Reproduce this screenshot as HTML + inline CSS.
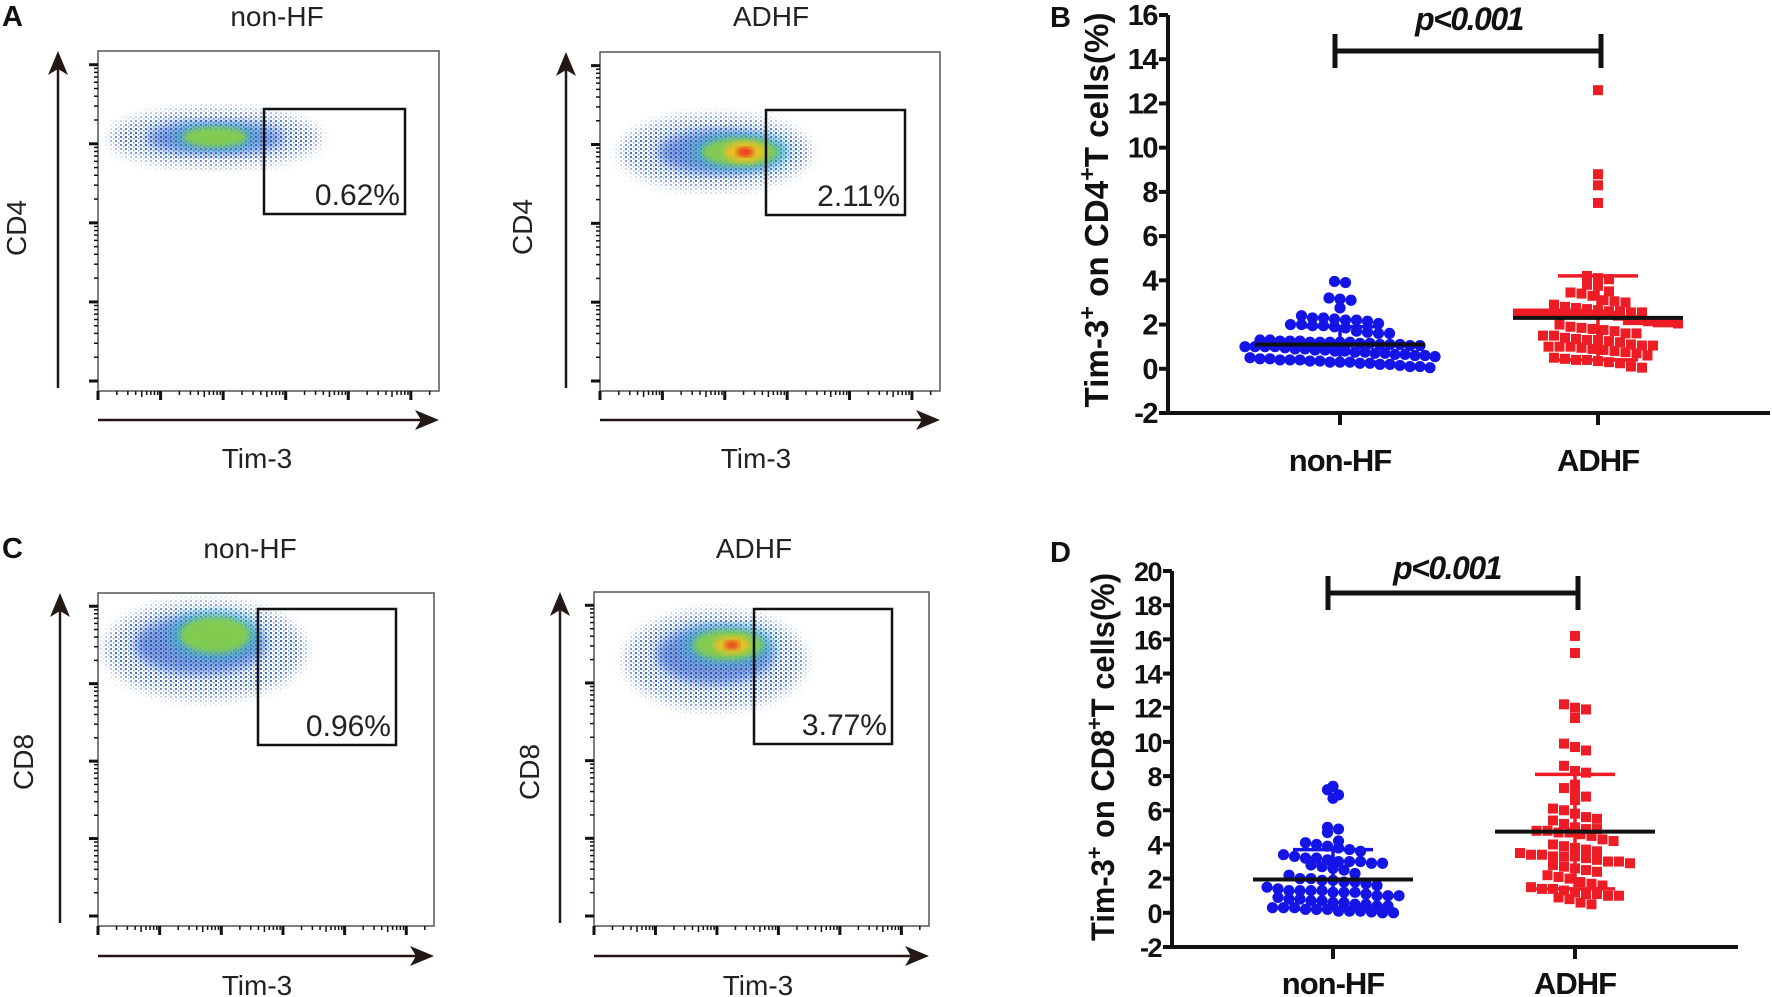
<!DOCTYPE html>
<html><head><meta charset="utf-8"><style>
html,body{margin:0;padding:0;background:#fff}
svg{display:block}
.flow{font-family:"Liberation Sans",sans-serif;fill:#222}
.bold{font-family:"Liberation Sans",sans-serif;font-weight:bold;fill:#111}
</style></head><body>
<svg id="fig" width="1772" height="997" viewBox="0 0 1772 997" xmlns="http://www.w3.org/2000/svg">
<defs>
<pattern id="speck" width="5" height="4" patternUnits="userSpaceOnUse"><rect x="0" y="0" width="2" height="2" fill="#1a3fa8"/><rect x="3" y="2" width="1.5" height="1.5" fill="#2a7fd0"/></pattern>
<filter id="blur6"><feGaussianBlur stdDeviation="6"/></filter>
<filter id="blur3"><feGaussianBlur stdDeviation="3"/></filter>
<mask id="m1" maskUnits="userSpaceOnUse"><ellipse cx="215" cy="138" rx="105" ry="28" fill="#fff" filter="url(#blur6)"/></mask>
<mask id="m2" maskUnits="userSpaceOnUse"><ellipse cx="715" cy="152" rx="95" ry="36" fill="#fff" filter="url(#blur6)"/></mask>
<mask id="m3" maskUnits="userSpaceOnUse"><ellipse cx="205" cy="650" rx="100" ry="48" fill="#fff" filter="url(#blur6)"/></mask>
<mask id="m4" maskUnits="userSpaceOnUse"><ellipse cx="715" cy="660" rx="90" ry="48" fill="#fff" filter="url(#blur6)"/></mask>
</defs>
<g id="flowLayer"></g>
<g id="chartB"></g>
<g id="chartD"></g>
</svg>
<script>
// ===== Chart B data =====
const catLabels = ["non-HF", "ADHF"];
const bNonHF = [3.95,3.9,3.2,3.15,3.1,2.75,2.4,2.3,2.3,2.25,2.2,2.2,2.15,2.05,2.0,2.0,1.95,1.95,1.9,1.85,1.7,1.65,1.6,1.6,1.3,1.3,1.25,1.25,1.25,1.2,1.2,1.2,1.2,1.2,1.15,1.15,1.1,1.1,1.1,1.05,1.05,1.0,1.0,1.0,1.0,0.95,0.9,0.9,0.85,0.85,0.8,0.8,0.75,0.75,0.7,0.7,0.65,0.65,0.6,0.6,0.55,0.5,0.45,0.45,0.4,0.4,0.4,0.35,0.35,0.3,0.3,0.3,0.25,0.25,0.2,0.2,0.15,0.1,0.1,0.05];
const bADHF = [12.6,8.8,8.3,7.5,4.2,4.1,4.05,3.8,3.75,3.5,3.45,3.4,3.3,3.1,3.05,3.0,2.9,2.8,2.75,2.7,2.65,2.6,2.6,2.55,2.55,2.5,2.5,2.5,2.5,2.5,2.5,2.5,2.45,2.45,2.45,2.4,2.2,2.2,2.15,2.1,2.1,2.05,2.0,1.9,1.85,1.8,1.75,1.7,1.6,1.6,1.5,1.5,1.4,1.35,1.3,1.3,1.25,1.2,1.1,1.05,1.05,1.0,1.0,1.0,0.95,0.9,0.85,0.8,0.75,0.7,0.6,0.5,0.45,0.4,0.4,0.35,0.3,0.25,0.1,0.05];
const bMeans = [1.1, 2.3];
const bSDs = [0.8, 1.9];
const bTicks = [-2,0,2,4,6,8,10,12,14,16];
// ===== Chart D data =====
const dNonHF = [7.4,7.2,6.9,6.7,5.0,4.9,4.7,4.2,4.1,4.0,3.9,3.8,3.7,3.6,3.4,3.3,3.2,3.2,3.1,3.0,3.0,3.0,2.9,2.9,2.8,2.7,2.6,2.5,2.3,2.2,2.0,2.0,1.9,1.9,1.8,1.8,1.7,1.6,1.5,1.4,1.3,1.3,1.3,1.3,1.2,1.2,1.2,1.1,1.0,1.0,1.0,0.9,0.8,0.8,0.7,0.7,0.6,0.6,0.5,0.5,0.4,0.4,0.3,0.3,0.3,0.2,0.2,0.2,0.1,0.1,0.1,0.05,0.0,0.0];
const dADHF = [16.2,15.2,12.2,12.0,11.9,11.4,9.9,9.7,9.5,8.6,8.3,8.2,7.5,7.3,7.0,6.8,6.6,6.1,6.0,5.8,5.6,5.5,5.4,5.2,5.0,4.9,4.9,4.8,4.8,4.7,4.7,4.6,4.5,4.3,4.2,4.0,3.9,3.8,3.7,3.6,3.5,3.4,3.4,3.3,3.3,3.3,3.2,3.1,3.0,3.0,2.9,2.8,2.7,2.6,2.5,2.4,2.2,2.1,2.0,1.8,1.7,1.6,1.5,1.4,1.4,1.3,1.2,1.1,1.1,1.0,1.0,0.9,0.8,0.6,0.5];
const dMeans = [1.95, 4.75];
const dSDs = [1.75, 3.35];
const dTicks = [-2,0,2,4,6,8,10,12,14,16,18,20];
// ===== Flow gate percentages =====
const gatePercents = ["0.62%", "2.11%", "0.96%", "3.77%"];

const NS = "http://www.w3.org/2000/svg";
function mk(parent, tag, attrs) {
  const e = document.createElementNS(NS, tag);
  for (const k in attrs) e.setAttribute(k, attrs[k]);
  parent.appendChild(e);
  return e;
}

function drawChart(g, cfg) {
  const yScale = v => cfg.y0 - (v - cfg.yMin) * (cfg.y0 - cfg.yTop) / (cfg.yMax - cfg.yMin);
  let e = mk(g, "line", {x1: cfg.ax, y1: yScale(cfg.yMax), x2: cfg.ax, y2: cfg.y0 + 2, stroke: "#111", "stroke-width": 4});
  
  
  e = mk(g, "line", {x1: cfg.ax - 2, y1: cfg.y0, x2: cfg.axEnd, y2: cfg.y0, stroke: "#111", "stroke-width": 4});
  
  
  cfg.ticks.forEach(t => {
    const y = yScale(t);
    let tk = mk(g, "line", {x1: cfg.ax - 9, y1: y, x2: cfg.ax, y2: y, stroke: "#111", "stroke-width": 4});
    
    
    let tl = mk(g, "text", {x: cfg.ax - 11, y: y + 10, "text-anchor": "end", class: "bold", "font-size": cfg.tickFs, "letter-spacing": "-1.5"});
    tl.textContent = String(t);
    
    
  });
  const yt = mk(g, "text", {x: 0, y: 0, class: "bold", "font-size": cfg.ytFs, "text-anchor": "middle", transform: `translate(${cfg.ytX},${cfg.ytY}) rotate(-90)`, textLength: cfg.ytLen, lengthAdjust: "spacingAndGlyphs"});
  yt.innerHTML = 'Tim-3<tspan baseline-shift="super" font-size="' + (cfg.ytFs*0.7) + '">+</tspan> on ' + cfg.cd + '<tspan baseline-shift="super" font-size="' + (cfg.ytFs*0.7) + '">+</tspan>T cells(%)';
  
  
  const groups = [cfg.non, cfg.ad];
  groups.forEach((vals, gi) => {
    const cx = cfg.cx[gi];
    let tk = mk(g, "line", {x1: cx, y1: cfg.y0, x2: cx, y2: cfg.y0 + 12, stroke: "#111", "stroke-width": 4});
    
    
    let lb = mk(g, "text", {x: cx, y: cfg.labY, "text-anchor": "middle", class: "bold", "font-size": 31, "letter-spacing": "-1"});
    lb.textContent = catLabels[gi];
    
    
    const dia = 11;
    const bins = {};
    vals.forEach(v => {
      const b = Math.round(yScale(v) / dia);
      (bins[b] = bins[b] || []).push(v);
    });
    const col = gi === 0 ? "#1414e6" : "#ee1c24";
    Object.keys(bins).forEach(b => {
      const arr = bins[b];
      const sp = arr.length > 14 ? 10 : 11;
      arr.forEach((v, i) => {
        const x = cx + (i - (arr.length - 1) / 2) * sp;
        const y = yScale(v);
        let m;
        if (gi === 0) m = mk(g, "circle", {cx: x, cy: y, r: 5.6, fill: col});
        else m = mk(g, "rect", {x: x - 5, y: y - 5, width: 10, height: 10, fill: col});
        
        
      });
    });
  });
  groups.forEach((vals, gi) => {
    const cx = cfg.cx[gi];
    const col = gi === 0 ? "#1414e6" : "#ee1c24";
    const m = cfg.means[gi], s = cfg.sds[gi];
    let e1 = mk(g, "line", {x1: cx, y1: yScale(m - s), x2: cx, y2: yScale(m + s), stroke: col, "stroke-width": 3.5});
    
    
    [m + s, m - s].forEach(v => {
      let c = mk(g, "line", {x1: cx - 40, y1: yScale(v), x2: cx + 40, y2: yScale(v), stroke: col, "stroke-width": 3.5});
      
      
    });
    let ml = mk(g, "line", {x1: cx - cfg.meanHalf, y1: yScale(m), x2: cx + cfg.meanHalf, y2: yScale(m), stroke: "#111", "stroke-width": 4});
    
    
  });
  const bx1 = cfg.cx[0] - 5, bx2 = cfg.cx[1] + 3;
  let br = mk(g, "path", {d: `M${bx1},${cfg.brY-17}V${cfg.brY+17}M${bx1},${cfg.brY}H${bx2}M${bx2},${cfg.brY-17}V${cfg.brY+17}`, stroke: "#111", "stroke-width": 5, fill: "none"});
  
  
  let pt = mk(g, "text", {x: cfg.pX, y: cfg.pY, "text-anchor": "middle", class: "bold", "font-size": 32, "font-style": "italic", "letter-spacing": "-1.5"});
  pt.textContent = "p<0.001";
  
  
  let pl = mk(g, "text", {x: cfg.letX, y: cfg.letY, class: "bold", "font-size": 29});
  pl.textContent = cfg.letter;
  
  
}

drawChart(document.getElementById("chartB"), {
  non: bNonHF, ad: bADHF, means: bMeans, sds: bSDs, ticks: bTicks,
  yMin: -2, yMax: 16, y0: 413, yTop: 15, ax: 1168, axEnd: 1770, cx: [1340, 1598],
  tickFs: 29, ytFs: 33, ytX: 1108, ytY: 210, ytLen: 395, cd: "CD4",
  labY: 471, meanHalf: 85, brY: 51, pX: 1469, pY: 30, letter: "B", letX: 1050, letY: 27
});
drawChart(document.getElementById("chartD"), {
  non: dNonHF, ad: dADHF, means: dMeans, sds: dSDs, ticks: dTicks,
  yMin: -2, yMax: 20, y0: 947, yTop: 571, ax: 1172, axEnd: 1738, cx: [1333, 1575],
  tickFs: 27, ytFs: 32, ytX: 1114, ytY: 757, ytLen: 368, cd: "CD8",
  labY: 994, meanHalf: 80, brY: 593, pX: 1447, pY: 579, letter: "D", letX: 1050, letY: 562
});

// ===== Flow panels =====
const flowPanels = [
  {bx: 98, by: 51, bw: 341, bh: 340, arX: 58, hY: 420, title: "non-HF", tX: 277, tY: 26, yl: "CD4", ylX: 26, ylY: 228, xlY: 468, xlX: 257,
   gate: [264, 109, 141, 105], mask: "m1", blob: [215,138,100,24], core: [215,137,32,10], hot: null, letter: "A"},
  {bx: 600, by: 52, bw: 340, bh: 339, arX: 566, hY: 420, title: "ADHF", tX: 771, tY: 26, yl: "CD4", ylX: 532, ylY: 227, xlY: 468, xlX: 756,
   gate: [766, 110, 139, 105], mask: "m2", blob: [720,152,90,32], core: [740,152,38,14], hot: [745,152,14,7], letter: null},
  {bx: 98, by: 593, bw: 336, bh: 333, arX: 60, hY: 956, title: "non-HF", tX: 250, tY: 558, yl: "CD8", ylX: 33, ylY: 762, xlY: 995, xlX: 257,
   gate: [258, 609, 138, 136], mask: "m3", blob: [200,645,95,42], core: [215,635,35,18], hot: null, letter: "C"},
  {bx: 594, by: 592, bw: 335, bh: 334, arX: 560, hY: 956, title: "ADHF", tX: 754, tY: 558, yl: "CD8", ylX: 539, ylY: 772, xlY: 995, xlX: 758,
   gate: [754, 609, 138, 135], mask: "m4", blob: [715,655,85,42], core: [728,645,35,15], hot: [732,645,12,6], letter: null}
];
const fl = document.getElementById("flowLayer");
flowPanels.forEach((p, i) => {
  const g = mk(fl, "g", {});
  
  
  let bx = mk(g, "rect", {x: p.bx, y: p.by, width: p.bw, height: p.bh, fill: "none", stroke: "#555", "stroke-width": 1.5});
  
  
  let sp = mk(g, "rect", {x: p.bx, y: p.by, width: p.bw, height: p.bh / 2, fill: "url(#speck)", mask: "url(#" + p.mask + ")", opacity: 0.8});
  
  
  mk(g, "ellipse", {cx: p.blob[0], cy: p.blob[1], rx: p.blob[2]*0.7, ry: p.blob[3]*0.7, fill: "#1e4fc0", opacity: 0.55, filter: "url(#blur6)"});
  mk(g, "ellipse", {cx: p.core[0], cy: p.core[1], rx: p.core[2]*1.3, ry: p.core[3]*1.3, fill: "#3cb8c8", opacity: 0.7, filter: "url(#blur6)"});
  mk(g, "ellipse", {cx: p.core[0], cy: p.core[1], rx: p.core[2], ry: p.core[3], fill: "#8cd23c", opacity: 0.85, filter: "url(#blur3)"});
  if (p.hot) {
    mk(g, "ellipse", {cx: p.hot[0], cy: p.hot[1], rx: p.hot[2]*1.5, ry: p.hot[3]*1.5, fill: "#f0c020", opacity: 0.9, filter: "url(#blur3)"});
    mk(g, "ellipse", {cx: p.hot[0], cy: p.hot[1], rx: p.hot[2]*0.6, ry: p.hot[3]*0.7, fill: "#e8281c", opacity: 0.9, filter: "url(#blur3)"});
  }
  const dec = p.bw / 5.45;
  for (let d = 0; d < 6; d++) {
    for (let k = 1; k <= 9; k++) {
      const x = p.bx + d * dec + Math.log10(k) * dec;
      if (x > p.bx + p.bw - 2) continue;
      const len = k === 1 ? 9 : (k === 5 ? 6 : 4);
      mk(g, "line", {x1: x, y1: p.by + p.bh, x2: x, y2: p.by + p.bh + len, stroke: "#111", "stroke-width": k === 1 ? 3 : 1.5});
    }
  }
  const ldec = p.bh / 4.3;
  for (let d = 0; d < 5; d++) {
    for (let k = 1; k <= 9; k++) {
      const y = p.by + p.bh - 10 - d * ldec - Math.log10(k) * ldec;
      if (y < p.by + 2) continue;
      const len = k === 1 ? 9 : 4;
      mk(g, "line", {x1: p.bx - len, y1: y, x2: p.bx, y2: y, stroke: "#111", "stroke-width": k === 1 ? 3 : 1.5});
    }
  }
  let va = mk(g, "line", {x1: p.arX, y1: p.by + p.bh - 3, x2: p.arX, y2: p.by + 10, stroke: "#231815", "stroke-width": 2.5});
  
  
  mk(g, "path", {d: `M${p.arX},${p.by} l-10,24 l10,-6 l10,6 Z`, fill: "#231815"});
  let ha = mk(g, "line", {x1: p.bx, y1: p.hY, x2: p.bx + p.bw - 8, y2: p.hY, stroke: "#231815", "stroke-width": 2.5});
  
  
  mk(g, "path", {d: `M${p.bx + p.bw},${p.hY} l-24,-10 l6,10 l-6,10 Z`, fill: "#231815"});
  let gt = mk(g, "rect", {x: p.gate[0], y: p.gate[1], width: p.gate[2], height: p.gate[3], fill: "none", stroke: "#111", "stroke-width": 2.5});
  
  
  let gp = mk(g, "text", {x: p.gate[0] + p.gate[2] - 5, y: p.gate[1] + p.gate[3] - 9, "text-anchor": "end", class: "flow", "font-size": 30});
  gp.textContent = gatePercents[i];
  
  
  let tt = mk(g, "text", {x: p.tX, y: p.tY, "text-anchor": "middle", class: "flow", "font-size": 28});
  tt.textContent = p.title;
  
  
  let xl = mk(g, "text", {x: p.xlX, y: p.xlY, "text-anchor": "middle", class: "flow", "font-size": 28});
  xl.textContent = "Tim-3";
  
  
  let yl = mk(g, "text", {x: 0, y: 0, "text-anchor": "middle", class: "flow", "font-size": 28, transform: `translate(${p.ylX},${p.ylY}) rotate(-90)`});
  yl.textContent = p.yl;
  
  
  if (p.letter) {
    let lt = mk(g, "text", {x: 2, y: p.tY, class: "bold", "font-size": 29});
    lt.textContent = p.letter;
    
    
  }
});
</script>
</body></html>
